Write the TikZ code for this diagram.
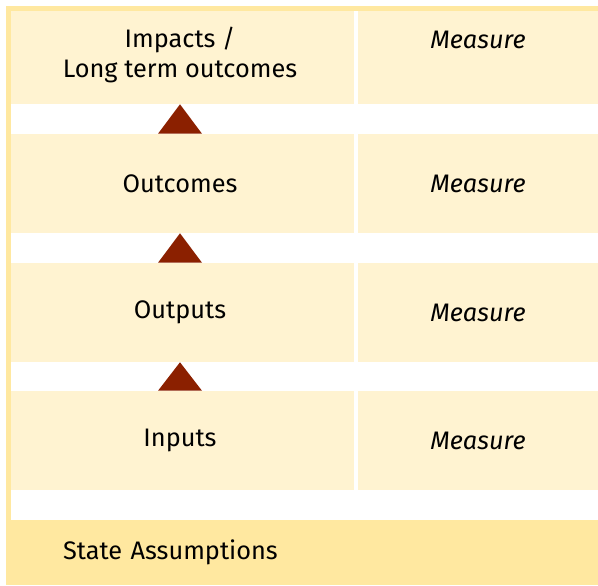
\documentclass[tikz,border=0pt]{standalone}
\usepackage{fontspec}
\setmainfont{Fira Sans}
\usetikzlibrary{positioning,calc}

\definecolor{cellfill}{RGB}{255,243,209}
\definecolor{framefill}{RGB}{255,232,160}
\definecolor{arrowred}{RGB}{139,32,0}

\begin{document}
\begin{tikzpicture}[x=0.75pt,y=-0.75pt,
  font=\fontsize{19}{22.8}\selectfont,
  lcell/.style={fill=cellfill,inner sep=0pt,minimum width=261pt,minimum height=74.25pt,align=center},
  rcell/.style={fill=cellfill,inner sep=0pt,minimum width=180pt,minimum height=74.25pt},
  meas/.style={font=\fontsize{19}{22.8}\selectfont\itshape,inner sep=0pt}]
\useasboundingbox (0,0) rectangle (598,585);

% left column: the chain of levels
\node[lcell,minimum height=73.5pt] (imp) at (180,55) {Impacts /\\Long term outcomes};
\node[lcell] (out) at (180,183.5) {Outcomes};
\node[lcell] (outp) at (180,312.5) {Outputs};
\node[lcell] (inp) at (180,440.5) {Inputs};

% right column
\node[rcell,minimum height=73.5pt] (impm) at (478,55) {};
\node[meas] (impmt) at (478,40) {Measure};
\node[rcell] (outm) at (478,183.5) {\textit{Measure}};
\node[rcell] (outpm) at (478,312.5) {\textit{Measure}};
\node[rcell] (inpm) at (478,440.5) {\textit{Measure}};

% frame strips along top and left
\fill[framefill] (6,6) rectangle (598,11);
\fill[framefill] (6,6) rectangle (11,520);

% bottom band
\node[fill=framefill,minimum width=444pt,minimum height=48.75pt,
  inner xsep=42.75pt,text width=358.5pt,align=left] (assum) at (302,552.5) {State Assumptions};

% arrowheads between levels
\foreach \lo/\hi in {out/imp,outp/out,inp/outp}
  \fill[arrowred] ($(\lo.north)+(-22,0)$) -- (\hi.south) -- ($(\lo.north)+(22,0)$) -- cycle;
\end{tikzpicture}
\end{document}
